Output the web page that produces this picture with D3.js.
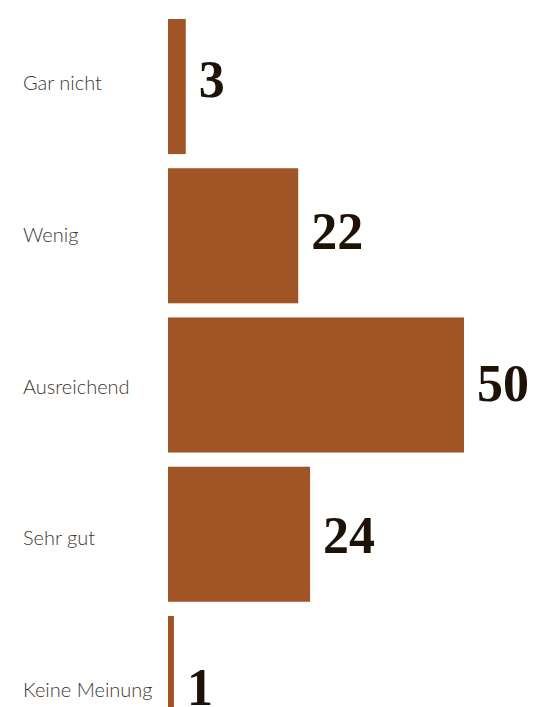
<!DOCTYPE html>
<html><head><meta charset="utf-8">
<script src="https://cdn.jsdelivr.net/npm/d3@7"></script>
<style>html,body{margin:0;padding:0;background:#fff;overflow:hidden}</style>
</head><body>
<svg id="chart" width="560" height="707"></svg>
<script>
const categories = ["Gar nicht", "Wenig", "Ausreichend", "Sehr gut", "Keine Meinung"];
const values = [3, 22, 50, 24, 1];

const svg = d3.select("#chart");
const x = d3.scaleLinear().domain([0, 50]).range([168, 464]);
const y = d3.scaleBand().domain(categories).range([19, 751]).paddingInner(0.095).paddingOuter(0);
const labelY = d3.scalePoint().domain(categories).range([90, 697]);
const numY = d3.scalePoint().domain(categories).range([97, 705]);

const data = categories.map((c, i) => ({c, v: values[i]}));

svg.selectAll("rect.bar").data(data).join("rect")
  .attr("class", "bar")
  .attr("x", x(0))
  .attr("y", d => y(d.c))
  .attr("width", d => x(d.v) - x(0))
  .attr("height", y.bandwidth())
  .attr("fill", "#a15426");

svg.selectAll("text.cat").data(data).join("text")
  .attr("class", "cat")
  .attr("x", 23)
  .attr("y", d => labelY(d.c))
  .attr("font-family", "Lato, 'Open Sans', sans-serif")
  .attr("font-weight", 300)
  .attr("font-size", 20)
  .attr("fill", "#3d3731")
  .text(d => d.c);

svg.selectAll("text.num").data(data).join("text")
  .attr("class", "num")
  .attr("x", d => x(d.v) + 13)
  .attr("y", d => numY(d.c))
  .attr("font-family", "'Liberation Serif', serif")
  .attr("font-weight", 700)
  .attr("font-size", 52)
  .attr("fill", "#1e1206")
  .text(d => d.v);
</script>
</body></html>
